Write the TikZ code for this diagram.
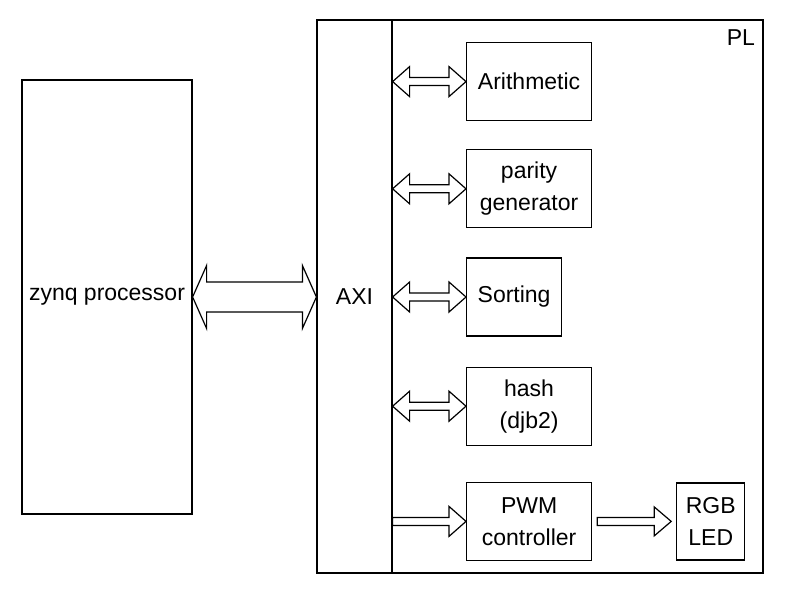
\documentclass[tikz,border=0pt]{standalone}
\usepackage{fontspec}
\setmainfont{Liberation Sans}
\usetikzlibrary{positioning,calc}

\tikzset{
  box/.style={draw, minimum width=62.5pt, minimum height=39pt, align=center},
  blockarrow/.style={draw, fill=white, line join=miter}
}

% two-headed block arrow: from, to, shaft half, head half, head length
\newcommand{\bidarrow}[5]{%
  \draw[blockarrow] let \p1=#1, \p2=#2 in
    (\x1,\y1) -- (\x1+#5,\y1+#4) -- (\x1+#5,\y1+#3) -- (\x2-#5,\y1+#3)
    -- (\x2-#5,\y1+#4) -- (\x2,\y1) -- (\x2-#5,\y1-#4) -- (\x2-#5,\y1-#3)
    -- (\x1+#5,\y1-#3) -- (\x1+#5,\y1-#4) -- cycle;}
% one-headed block arrow
\newcommand{\uniarrow}[5]{%
  \draw[blockarrow] let \p1=#1, \p2=#2 in
    (\x1,\y1+#3) -- (\x2-#5,\y1+#3) -- (\x2-#5,\y1+#4) -- (\x2,\y1)
    -- (\x2-#5,\y1-#4) -- (\x2-#5,\y1-#3) -- (\x1,\y1-#3) -- cycle;}

\begin{document}
\begin{tikzpicture}[
            x=0.5pt, y=-0.5pt,
            line width=0.6pt,
            every node/.style={font=\fontsize{11.5pt}{16pt}\selectfont}
          ]
          \useasboundingbox (0,0) rectangle (807,604);

          % Nodes
          \node[draw, minimum width=85pt, minimum height=217pt] (zynq) at (107,297) {zynq processor};
          \node[draw, minimum width=37.5pt, minimum height=276.5pt] (axi) at (354.5,296.5) {AXI};
          \node[draw, minimum width=185.5pt, minimum height=276.5pt] (pl) at (577.5,296.5) {};
          \node[anchor=north east, inner xsep=4pt, inner ysep=5pt] (pltag) at (pl.north east) {PL};

          \node[box, anchor=north west] (arith) at (466,42) {Arithmetic};
          \node[box, below=14pt of arith.south west, anchor=north west] (parity) {parity\\generator};
          \node[box, minimum width=47.5pt, below=14.5pt of parity.south west, anchor=north west] (sorting) {Sorting};
          \node[box, below=15pt of sorting.south west, anchor=north west] (hash) {hash\\(djb2)};
          \node[box, below=18pt of hash.south west, anchor=north west] (pwm) {PWM\\controller};
          \node[box, minimum width=34pt, minimum height=38.5pt, right=42pt of pwm] (rgb) {RGB\\LED};

          % Edges
          \bidarrow{(zynq.east)}{(axi.west)}{7.5pt}{15.75pt}{7pt}
          \bidarrow{(axi.east |- arith.west)}{(arith.west)}{2pt}{7.5pt}{8.5pt}
          \bidarrow{(axi.east |- parity.west)}{(parity.west)}{2pt}{7.5pt}{8.5pt}
          \bidarrow{(axi.east |- sorting.west)}{(sorting.west)}{2pt}{7.5pt}{8.5pt}
          \bidarrow{(axi.east |- hash.west)}{(hash.west)}{2pt}{7.5pt}{8.5pt}
          \uniarrow{(axi.east |- pwm.west)}{(pwm.west)}{2pt}{7.5pt}{8.5pt}
          \uniarrow{([xshift=2.5pt]pwm.east)}{([xshift=-2.5pt]rgb.west)}{2pt}{7.25pt}{8.5pt}

        \end{tikzpicture}
\end{document}
